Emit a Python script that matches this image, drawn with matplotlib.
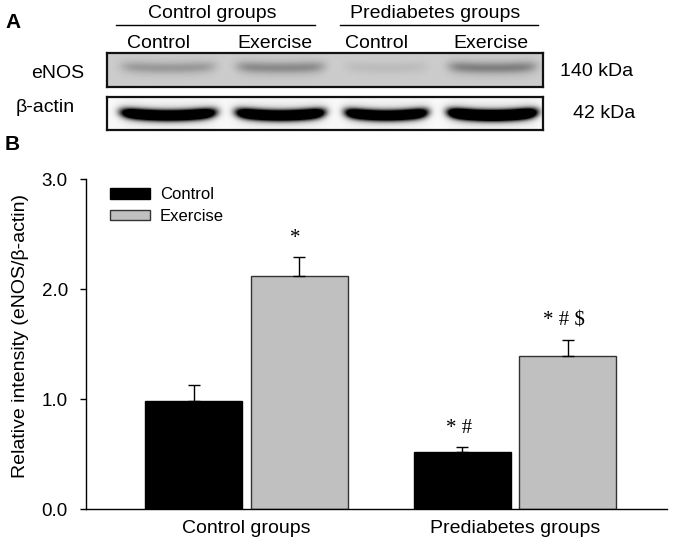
import numpy as np
import matplotlib.pyplot as plt
from matplotlib.lines import Line2D
from matplotlib.patches import Patch

plt.rcParams['font.family'] = ['Liberation Sans', 'DejaVu Sans']

# ---- data ----
groups = ['Control groups', 'Prediabetes groups']
series = ['Control', 'Exercise']
control_vals = [0.985, 0.515]
control_err = [0.14, 0.05]
exercise_vals = [2.12, 1.39]
exercise_err = [0.17, 0.145]
control_marks = ['', '* #']
exercise_marks = ['*', '* # $']

lanes = ['Control', 'Exercise', 'Control', 'Exercise']
enos_band = [0.50, 0.65, 0.15, 0.75]   # band darkness
actin_band = [1.0, 1.0, 0.95, 1.15]

W, H = 677, 547
fig = plt.figure(figsize=(W / 100, H / 100), dpi=100)


def fx(px):
    return px / W


def fy(py):
    return 1 - py / H


# ---------- panel A: blot ----------
fig.text(fx(5), fy(23), 'A', fontsize=15, fontweight='bold', va='center', ha='left')
fig.text(fx(212), fy(13), 'Control groups', fontsize=14, ha='center', va='center')
fig.text(fx(435), fy(13), 'Prediabetes groups', fontsize=14, ha='center', va='center')
fig.add_artist(Line2D([fx(116), fx(315)], [fy(25), fy(25)], color='black', lw=1))
fig.add_artist(Line2D([fx(340), fx(538)], [fy(25), fy(25)], color='black', lw=1))
lane_x = [158, 275, 377, 491]
for lx, name in zip(lane_x, lanes):
    fig.text(fx(lx), fy(43), name, fontsize=14, ha='center', va='center')

box_l, box_r = 107, 543
band_x = [168, 280, 386, 492]
band_w = [47, 44, 41, 44]


def blot(top, bot, bands, bg, yc, core, halo, dark, halo_dark, curve):
    ax = fig.add_axes([fx(box_l), fy(bot), fx(box_r - box_l), (bot - top) / H])
    xs = np.arange(box_r - box_l) + box_l
    ys = np.arange(bot - top) + top
    X, Y = np.meshgrid(xs, ys)
    img = np.full(X.shape, bg, dtype=float)
    for cx, hw, b in zip(band_x, band_w, bands):
        dx = X - cx
        prof_x = np.exp(-np.abs(dx / hw) ** 8)
        dy = Y - yc + curve * (dx / hw) ** 2
        img = img - b * prof_x * (dark * np.exp(-(dy / core) ** 2)
                                  + halo_dark * np.exp(-(dy / halo) ** 2))
    img = np.clip(img, 0, 1)
    ax.imshow(img, cmap='gray', vmin=0, vmax=1, aspect='auto', interpolation='bilinear')
    ax.set_xticks([])
    ax.set_yticks([])
    for s in ax.spines.values():
        s.set_linewidth(1.6)
        s.set_color('#111111')
    return ax


blot(53, 87, enos_band, 0.80, 68, 5, 9, 0.28, 0.12, 1.5)
blot(97, 130, actin_band, 0.97, 115, 5, 10, 1.9, 0.18, 3)

fig.text(fx(58), fy(73), 'eNOS', fontsize=14, ha='center', va='center')
fig.text(fx(45), fy(107), 'β-actin', fontsize=14, ha='center', va='center')
fig.text(fx(597), fy(71), '140 kDa', fontsize=14, ha='center', va='center')
fig.text(fx(604), fy(113), '42 kDa', fontsize=14, ha='center', va='center')
fig.text(fx(5), fy(145), 'B', fontsize=15, fontweight='bold', va='center', ha='left')

# ---------- panel B: bars ----------
ax = fig.add_axes([fx(86), fy(509), fx(667 - 86), (509 - 179) / H])
x = np.arange(len(groups))
width = 0.361
off = 0.197
ax.bar(x - off, control_vals, width, color='black', edgecolor='black', lw=1,
       yerr=[[0] * len(x), control_err], capsize=4.5,
       error_kw=dict(ecolor='black', elinewidth=1, capthick=1), zorder=2)
ax.bar(x + off, exercise_vals, width, color='#c0c0c0', edgecolor='#333333', lw=1,
       yerr=[[0] * len(x), exercise_err], capsize=4.5,
       error_kw=dict(ecolor='black', elinewidth=1, capthick=1), zorder=2)

for i in range(len(x)):
    if control_marks[i]:
        ax.text(x[i] - off - 0.01, control_vals[i] + control_err[i] + 0.17, control_marks[i],
                family='Liberation Serif', fontsize=15, ha='center', va='center')
    if exercise_marks[i]:
        ax.text(x[i] + off - 0.015, exercise_vals[i] + exercise_err[i] + 0.17, exercise_marks[i],
                family='Liberation Serif', fontsize=15, ha='center', va='center')

ax.set_xlim(-0.598, 1.566)
ax.set_ylim(0, 3)
ax.set_yticks([0, 1, 2, 3])
ax.set_yticklabels(['0.0', '1.0', '2.0', '3.0'], fontsize=13.5)
ax.tick_params(axis='y', length=4.5, width=1, pad=8.5, direction='out')
ax.set_xticks(x)
ax.set_xticklabels(groups, fontsize=14)
ax.tick_params(axis='x', length=0, pad=8)
for s in ['top', 'right']:
    ax.spines[s].set_visible(False)
for s in ['left', 'bottom']:
    ax.spines[s].set_linewidth(1)
ax.set_ylabel('Relative intensity (eNOS/β-actin)', fontsize=14, va='center')
ax.yaxis.set_label_coords(-0.113, 0.524)

handles = [Patch(facecolor='black', edgecolor='black', label=series[0]),
           Patch(facecolor='#c0c0c0', edgecolor='#333333', label=series[1])]
ax.legend(handles=handles, loc='upper left', bbox_to_anchor=(0.03, 0.995), frameon=False,
          fontsize=12, handlelength=2.4, handleheight=0.6, handletextpad=0.6,
          labelspacing=0.4, borderaxespad=0)

fig.savefig('out.png', dpi=100)
